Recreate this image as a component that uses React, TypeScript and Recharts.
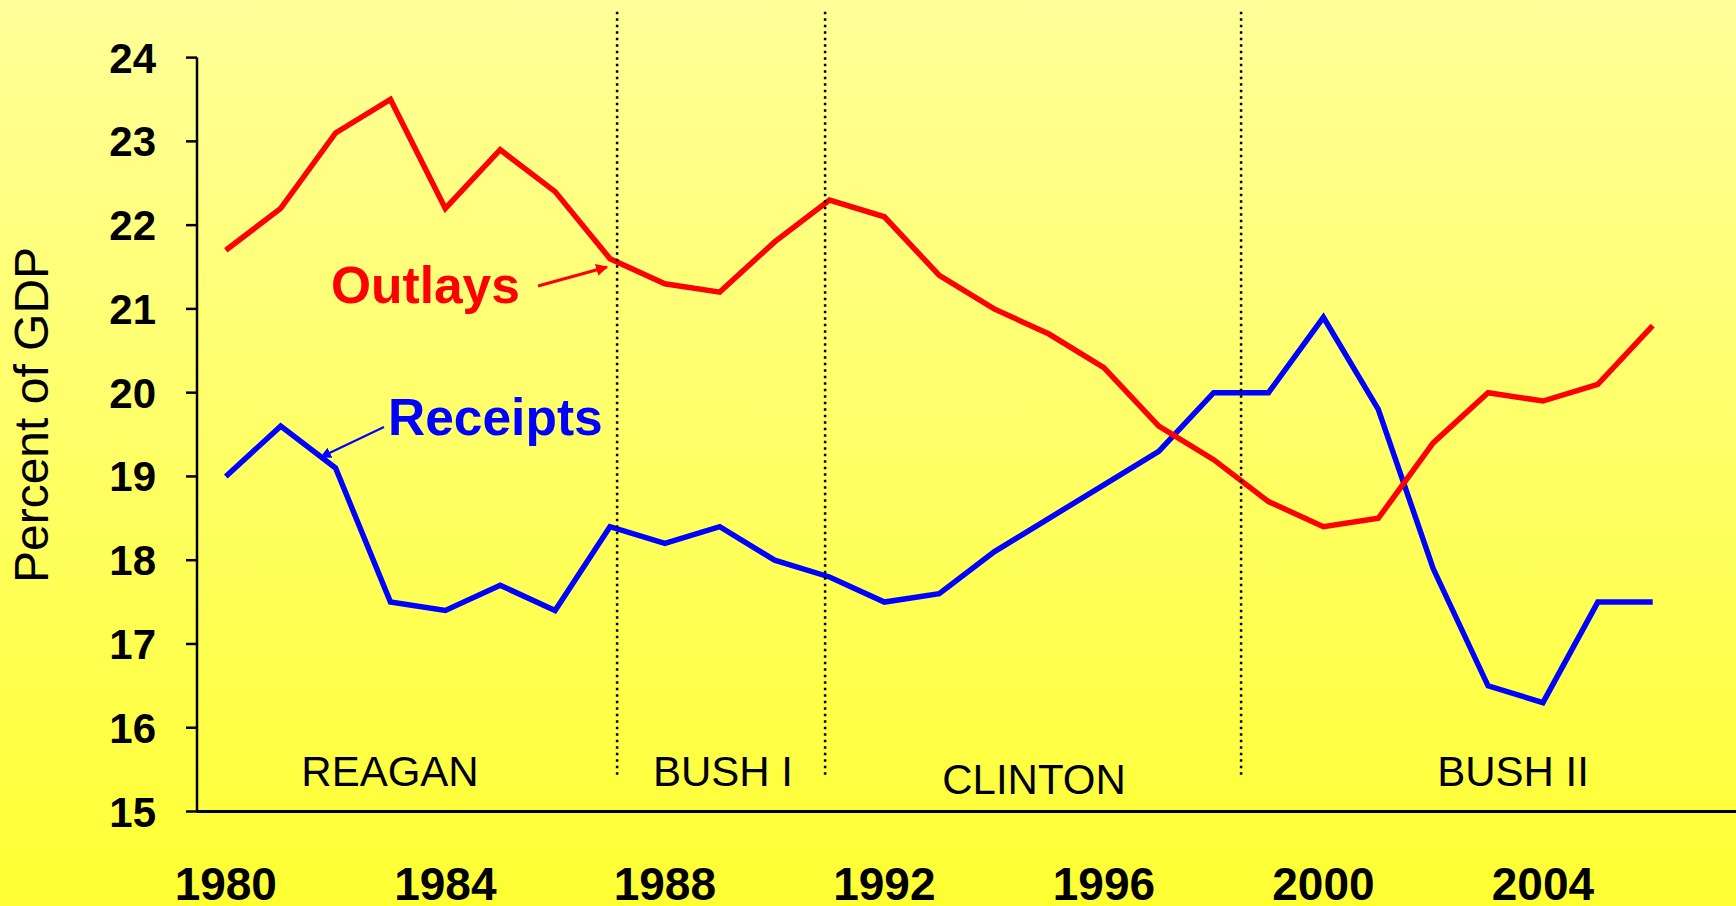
import { Line, LineChart, ReferenceLine, XAxis, YAxis } from "recharts";

const years = [
	1980, 1981, 1982, 1983, 1984, 1985, 1986, 1987, 1988, 1989, 1990, 1991, 1992, 1993,
	1994, 1995, 1996, 1997, 1998, 1999, 2000, 2001, 2002, 2003, 2004, 2005, 2006,
];

const outlays = [
	21.7, 22.2, 23.1, 23.5, 22.2, 22.9, 22.4, 21.6, 21.3, 21.2, 21.8, 22.3, 22.1, 21.4,
	21.0, 20.7, 20.3, 19.6, 19.2, 18.7, 18.4, 18.5, 19.4, 20.0, 19.9, 20.1, 20.8,
];

const receipts = [
	19.0, 19.6, 19.1, 17.5, 17.4, 17.7, 17.4, 18.4, 18.2, 18.4, 18.0, 17.8, 17.5, 17.6,
	18.1, 18.5, 18.9, 19.3, 20.0, 20.0, 20.9, 19.8, 17.9, 16.5, 16.3, 17.5, 17.5,
];

const yTicks = [15, 16, 17, 18, 19, 20, 21, 22, 23, 24];
const xTicks = [1980, 1984, 1988, 1992, 1996, 2000, 2004];

// where one administration hands over to the next
const termBreaks = [1987.13, 1990.92, 1998.5];

const presidents = ["REAGAN", "BUSH I", "CLINTON", "BUSH II"];

const data = years.map((year, i) => ({
	year,
	outlays: outlays[i],
	receipts: receipts[i],
}));

const WIDTH = 1736;
const HEIGHT = 906;
const FONT = "'Liberation Sans', Arial, sans-serif";

function YTick(props: any) {
	const { x, y, payload } = props;
	return (
		<text
			x={x}
			y={y}
			dy={15}
			textAnchor="end"
			fontFamily={FONT}
			fontWeight="bold"
			fontSize={42}
			fill="#000"
		>
			{payload.value}
		</text>
	);
}

function XTick(props: any) {
	const { x, y, payload } = props;
	return (
		<text
			x={x}
			y={y}
			dy={88}
			textAnchor="middle"
			fontFamily={FONT}
			fontWeight="bold"
			fontSize={46}
			fill="#000"
		>
			{payload.value}
		</text>
	);
}

// label positions for the four administrations: [centre x, baseline]
const presidentSpots = [
	[390, 786],
	[723, 786],
	[1034, 794],
	[1513, 786],
];

export default function App() {
	return (
		<div
			style={{
				position: "absolute",
				left: 0,
				top: 0,
				width: WIDTH,
				height: HEIGHT,
				overflow: "hidden",
				background: "linear-gradient(to bottom, #FFFF99 0%, #FFFF66 50%, #FFFF33 100%)",
			}}
		>
			<LineChart
				width={WIDTH}
				height={HEIGHT}
				data={data}
				margin={{ top: 57.6, right: 0, bottom: 0, left: 0 }}
			>
				<XAxis
					dataKey="year"
					type="number"
					domain={[1979.475, 2007.518]}
					ticks={xTicks}
					allowDataOverflow
					tickLine={false}
					tickSize={0}
					tickMargin={0}
					height={94.5}
					axisLine={{ stroke: "#000", strokeWidth: 3 }}
					tick={<XTick />}
				/>
				<YAxis
					type="number"
					domain={[15, 24]}
					ticks={yTicks}
					width={197}
					tickSize={11}
					tickMargin={30}
					tickLine={{ stroke: "#000", strokeWidth: 2.5 }}
					axisLine={{ stroke: "#000", strokeWidth: 2.5 }}
					tick={<YTick />}
				/>
				<Line
					type="linear"
					dataKey="receipts"
					stroke="#0000FF"
					strokeWidth={5.5}
					dot={false}
					isAnimationActive={false}
				/>
				<Line
					type="linear"
					dataKey="outlays"
					stroke="#FF0000"
					strokeWidth={5.5}
					dot={false}
					isAnimationActive={false}
				/>
				{termBreaks.map((b) => (
					<ReferenceLine
						key={b}
						segment={[
							{ x: b, y: 15.44 },
							{ x: b, y: 24.57 },
						]}
						ifOverflow="visible"
						stroke="#000"
						strokeWidth={2.5}
						strokeDasharray="2.5 4"
					/>
				))}
			</LineChart>

			<svg
				width={WIDTH}
				height={HEIGHT}
				style={{ position: "absolute", left: 0, top: 0, pointerEvents: "none" }}
			>
				<defs>
					<marker
						id="headRed"
						viewBox="0 0 10 10"
						refX="9"
						refY="5"
						markerWidth="4"
						markerHeight="4"
						orient="auto"
						markerUnits="strokeWidth"
					>
						<path d="M0,0 L10,5 L0,10 z" fill="#FF0000" />
					</marker>
					<marker
						id="headBlue"
						viewBox="0 0 10 10"
						refX="9"
						refY="5"
						markerWidth="5"
						markerHeight="5"
						orient="auto"
						markerUnits="strokeWidth"
					>
						<path d="M0,0 L10,5 L0,10 z" fill="#0000FF" />
					</marker>
				</defs>

				<text
					transform="translate(48 415) rotate(-90)"
					textAnchor="middle"
					fontFamily={FONT}
					fontSize={48}
					fill="#000"
				>
					Percent of GDP
				</text>

				<text x={331} y={303} fontFamily={FONT} fontWeight="bold" fontSize={51.5} fill="#FF0000">
					Outlays
				</text>
				<line
					x1={538}
					y1={286}
					x2={607}
					y2={267}
					stroke="#FF0000"
					strokeWidth={3}
					markerEnd="url(#headRed)"
				/>

				<text x={388} y={435} fontFamily={FONT} fontWeight="bold" fontSize={51.5} fill="#0000FF">
					Receipts
				</text>
				<line
					x1={384}
					y1={427}
					x2={321}
					y2={457}
					stroke="#0000FF"
					strokeWidth={2.2}
					markerEnd="url(#headBlue)"
				/>

				{presidents.map((name, i) => (
					<text
						key={name}
						x={presidentSpots[i][0]}
						y={presidentSpots[i][1]}
						textAnchor="middle"
						fontFamily={FONT}
						fontSize={42}
						fill="#000"
					>
						{name}
					</text>
				))}
			</svg>
		</div>
	);
}
